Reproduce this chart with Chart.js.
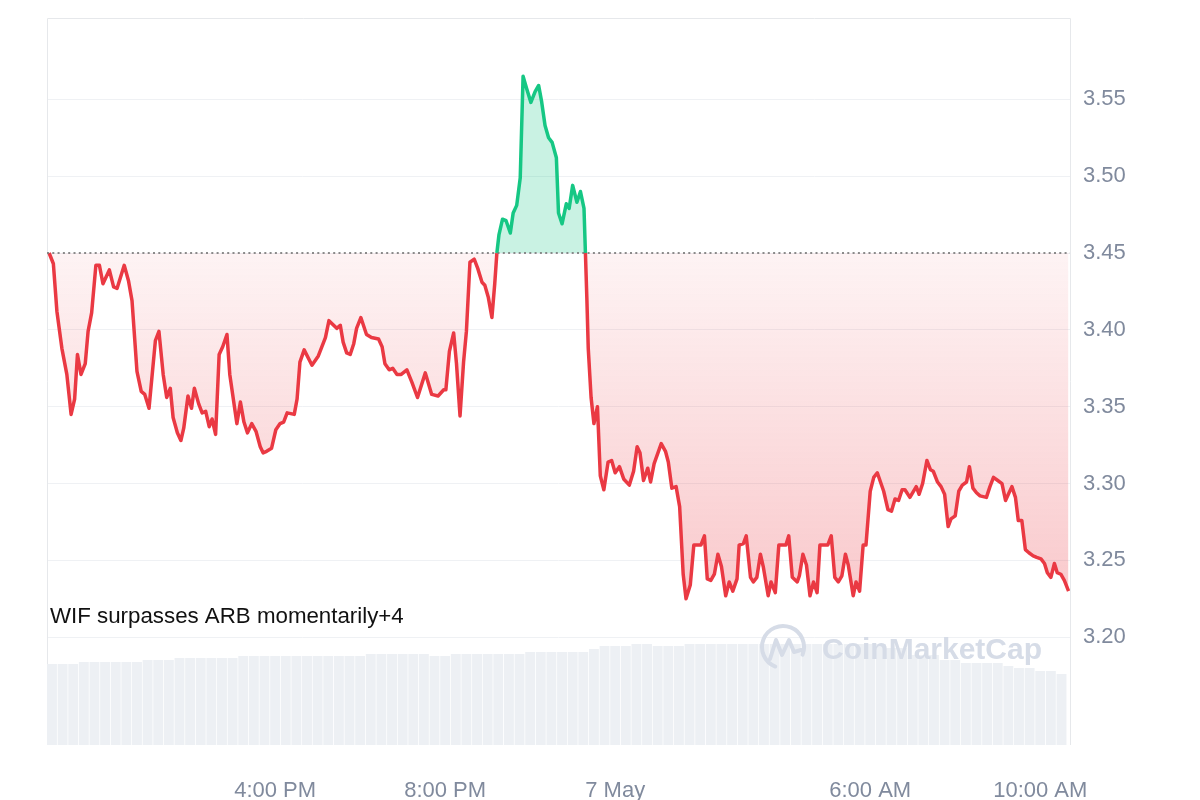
<!DOCTYPE html>
<html>
<head>
<meta charset="utf-8">
<title>WIF price</title>
<script src="https://cdn.jsdelivr.net/npm/chart.js@4.4.1/dist/chart.umd.min.js"></script>
<style>
  html, body { margin: 0; padding: 0; background: #fff; }
  canvas { display: block; }
</style>
</head>
<body>
<canvas id="chart" width="1200" height="800"></canvas>
<script>
// minutes relative to 7 May 00:00
const priceTimes = [
  -799,-793,-788,-781,-774,-768,-763,-759,-754,-748,
  -744,-739,-733,-728,-723,-714,-708,-703,-693,-687,
  -682,-675,-669,-664,-658,-649,-644,-638,-633,-628,
  -624,-618,-613,-609,-603,-598,-594,-588,-583,-578,
  -573,-569,-564,-559,-554,-548,-544,-534,-529,-524,
  -519,-513,-507,-501,-497,-492,-485,-479,-473,-468,
  -463,-453,-449,-445,-439,-428,-419,-409,-404,-393,
  -388,-384,-379,-374,-369,-365,-359,-351,-344,-334,
  -329,-325,-319,-314,-308,-302,-294,-287,-279,-268,
  -259,-250,-242,-239,-234,-228,-224,-219,-214,-210,
  -205,-199,-194,-188,-184,-179,-174,-170,-167,-164,
  -159,-154,-148,-144,-139,-134,-130,-125,-119,-113,
  -108,-104,-99,-94,-89,-83,-80,-75,-69,-65,
  -60,-54,-49,-44,-42,-40,-38,-34,-30,-25,
  -21,-16,-10,-5,0,6,12,20,26,31,
  35,40,46,50,55,65,71,75,80,86,
  91,96,100,106,111,118,121,126,130,135,
  140,145,150,156,161,166,172,175,181,185,
  191,195,200,205,209,216,220,226,231,238,
  241,245,250,257,260,265,270,275,280,285,
  289,297,300,305,310,315,320,325,329,336,
  340,345,350,354,360,365,370,379,385,390,
  395,400,405,409,416,425,429,434,440,445,
  449,455,460,465,470,474,480,485,490,496,
  500,505,510,515,524,529,534,540,546,551,
  555,560,565,569,574,579,584,590,595,601,
  606,610,615,620,624,629,634,640
];
const prices = [
  3.450,3.443,3.412,3.388,3.371,3.345,3.355,3.384,3.371,3.378,
  3.399,3.411,3.442,3.442,3.430,3.439,3.428,3.427,3.442,3.432,
  3.419,3.373,3.360,3.358,3.349,3.393,3.399,3.371,3.356,3.362,
  3.343,3.333,3.328,3.336,3.357,3.349,3.362,3.352,3.346,3.347,
  3.337,3.342,3.332,3.384,3.389,3.397,3.371,3.339,3.353,3.340,
  3.333,3.339,3.334,3.324,3.320,3.321,3.323,3.335,3.339,3.340,
  3.346,3.345,3.355,3.379,3.387,3.377,3.383,3.395,3.406,3.401,
  3.403,3.392,3.385,3.384,3.391,3.401,3.408,3.397,3.395,3.394,
  3.389,3.378,3.374,3.375,3.371,3.371,3.374,3.366,3.356,3.372,
  3.358,3.357,3.361,3.361,3.386,3.398,3.378,3.344,3.379,3.399,
  3.444,3.446,3.440,3.431,3.429,3.421,3.408,3.430,3.450,3.462,
  3.472,3.471,3.463,3.476,3.481,3.499,3.565,3.557,3.548,3.555,
  3.559,3.549,3.533,3.525,3.522,3.512,3.476,3.469,3.482,3.479,
  3.494,3.483,3.490,3.479,3.450,3.421,3.388,3.356,3.339,3.350,
  3.305,3.296,3.314,3.315,3.307,3.311,3.303,3.299,3.308,3.324,
  3.320,3.302,3.310,3.301,3.313,3.326,3.321,3.314,3.297,3.298,
  3.285,3.241,3.225,3.234,3.260,3.260,3.260,3.266,3.238,3.237,
  3.241,3.254,3.246,3.227,3.236,3.230,3.238,3.260,3.261,3.266,
  3.239,3.236,3.239,3.254,3.246,3.227,3.236,3.229,3.260,3.260,
  3.260,3.266,3.239,3.236,3.240,3.254,3.247,3.227,3.236,3.229,
  3.260,3.260,3.260,3.266,3.239,3.236,3.240,3.254,3.247,3.227,
  3.236,3.230,3.260,3.260,3.295,3.304,3.307,3.295,3.283,3.282,
  3.290,3.289,3.296,3.296,3.291,3.298,3.293,3.300,3.315,3.309,
  3.308,3.301,3.298,3.293,3.272,3.277,3.279,3.295,3.299,3.301,
  3.311,3.297,3.294,3.292,3.291,3.298,3.304,3.302,3.300,3.289,
  3.293,3.298,3.291,3.276,3.276,3.257,3.255,3.253,3.252,3.251,
  3.248,3.242,3.239,3.248,3.242,3.241,3.237,3.230
];
const openPrice = 3.45;

// 24h volume (USD M), one bar every 15 minutes
const volStart = -795;
const volStep = 15;
const volumes = [
  405,405,405,415,415,415,415,415,415,425,
  425,425,435,435,435,435,435,435,445,445,
  445,445,445,445,445,445,445,445,445,445,
  455,455,455,455,455,455,445,445,455,455,
  455,455,455,455,455,465,465,465,465,465,
  465,480,495,495,495,505,505,495,495,495,
  505,505,505,505,505,505,505,505,505,505,
  505,505,505,505,505,505,505,505,505,485,
  485,450,450,450,425,425,410,410,410,410,
  395,385,385,370,370,355
];

const tickTimes = [-480, -240, 0, 360, 600];
const tickLabels = ['4:00 PM', '8:00 PM', '7 May', '6:00 AM', '10:00 AM'];
const priceTicks = [3.20, 3.25, 3.30, 3.35, 3.40, 3.45, 3.50, 3.55];
const note = 'WIF surpasses ARB momentarily+4';

const RED = '#ea3943';
const GREEN = '#16c784';
const FONT = '"Liberation Sans", Arial, sans-serif';

const linePoints = priceTimes.map((t, i) => ({ x: t, y: prices[i] }));
const volPoints = volumes.map((v, i) => ({ x: volStart + i * volStep, y: v }));

function noPad(s) {
  s.paddingTop = 0;
  s.paddingBottom = 0;
  s.paddingLeft = 0;
  s.paddingRight = 0;
}

const decor = {
  id: 'decor',
  beforeDatasetsDraw(chart) {
    const { ctx, chartArea: a } = chart;
    ctx.save();
    ctx.strokeStyle = '#e6e8eb';
    ctx.lineWidth = 1;
    ctx.beginPath();
    ctx.moveTo(a.left + 0.5, a.bottom);
    ctx.lineTo(a.left + 0.5, a.top + 0.5);
    ctx.lineTo(a.right + 0.5, a.top + 0.5);
    ctx.lineTo(a.right + 0.5, a.bottom);
    ctx.stroke();
    ctx.restore();
  },
  afterDatasetsDraw(chart) {
    const { ctx, chartArea: a, scales } = chart;
    const yb = Math.round(scales.y.getPixelForValue(openPrice));
    ctx.save();
    // opening price dotted line
    ctx.strokeStyle = 'rgba(120,120,120,0.85)';
    ctx.lineWidth = 2;
    ctx.setLineDash([2, 3.3]);
    ctx.beginPath();
    ctx.moveTo(a.left, yb);
    ctx.lineTo(a.right, yb);
    ctx.stroke();
    ctx.setLineDash([]);

    // watermark
    ctx.strokeStyle = '#d6dce7';
    ctx.lineWidth = 4;
    ctx.lineCap = 'round';
    ctx.lineJoin = 'round';
    ctx.beginPath();
    ctx.arc(783, 647, 21, Math.PI * 0.62, Math.PI * 2.12, false);
    ctx.stroke();
    ctx.beginPath();
    ctx.moveTo(770, 659);
    ctx.lineTo(776, 640);
    ctx.lineTo(782, 655);
    ctx.lineTo(789, 640);
    ctx.lineTo(794, 652);
    ctx.lineTo(801, 650);
    ctx.stroke();
    ctx.fillStyle = '#d6dce7';
    ctx.font = 'bold 30px ' + FONT;
    ctx.textBaseline = 'alphabetic';
    ctx.fillText('CoinMarketCap', 822, 659);

    // annotation
    ctx.fillStyle = '#111';
    ctx.font = '22.3px ' + FONT;
    ctx.fillText(note, 50, 623);
    ctx.restore();
  }
};

new Chart(document.getElementById('chart'), {
  data: {
    datasets: [
      {
        type: 'line',
        data: linePoints,
        yAxisID: 'y',
        order: 1,
        borderWidth: 3.5,
        pointRadius: 0,
        tension: 0,
        borderJoinStyle: 'round',
        borderColor: RED,
        segment: {
          borderColor: c => (c.p0.parsed.y >= openPrice && c.p1.parsed.y >= openPrice) ? GREEN : RED
        },
        backgroundColor: c => {
          const chart = c.chart;
          if (!chart.chartArea) return 'rgba(234,57,67,0.1)';
          const y = chart.scales.y;
          const g = chart.ctx.createLinearGradient(0, y.getPixelForValue(openPrice), 0, y.getPixelForValue(3.22));
          g.addColorStop(0, 'rgba(234,57,67,0.06)');
          g.addColorStop(1, 'rgba(234,57,67,0.28)');
          return g;
        },
        fill: { target: { value: openPrice }, above: 'rgba(22,199,132,0.23)' }
      },
      {
        type: 'bar',
        data: volPoints,
        yAxisID: 'yVol',
        order: 2,
        backgroundColor: '#edf0f4',
        barPercentage: 0.93,
        categoryPercentage: 1
      }
    ]
  },
  options: {
    responsive: false,
    animation: false,
    layout: { padding: { left: 47, top: 18, right: 0, bottom: 0 } },
    plugins: {
      legend: { display: false },
      tooltip: { enabled: false }
    },
    scales: {
      x: {
        type: 'linear',
        min: -802,
        max: 642,
        offset: false,
        grid: { display: false, drawTicks: false, offset: false },
        border: { display: false },
        afterBuildTicks: s => { s.ticks = tickTimes.map(v => ({ value: v })); },
        afterFit: s => { s.height = 55; noPad(s); },
        ticks: {
          autoSkip: false,
          maxRotation: 0,
          padding: 33,
          color: '#808a9d',
          font: { family: FONT, size: 22 },
          callback: v => tickLabels[tickTimes.indexOf(v)]
        }
      },
      y: {
        position: 'right',
        min: 3.1299,
        max: 3.6029,
        grid: { color: '#eff1f4', drawTicks: false },
        border: { display: false },
        afterBuildTicks: s => { s.ticks = priceTicks.map(v => ({ value: v })); },
        afterFit: s => { s.width = 130; noPad(s); },
        ticks: {
          padding: 13,
          color: '#808a9d',
          font: { family: FONT, size: 22 },
          callback: v => v.toFixed(2)
        }
      },
      yVol: {
        display: false,
        min: 0,
        max: 3635
      }
    }
  },
  plugins: [decor]
});
</script>
</body>
</html>
